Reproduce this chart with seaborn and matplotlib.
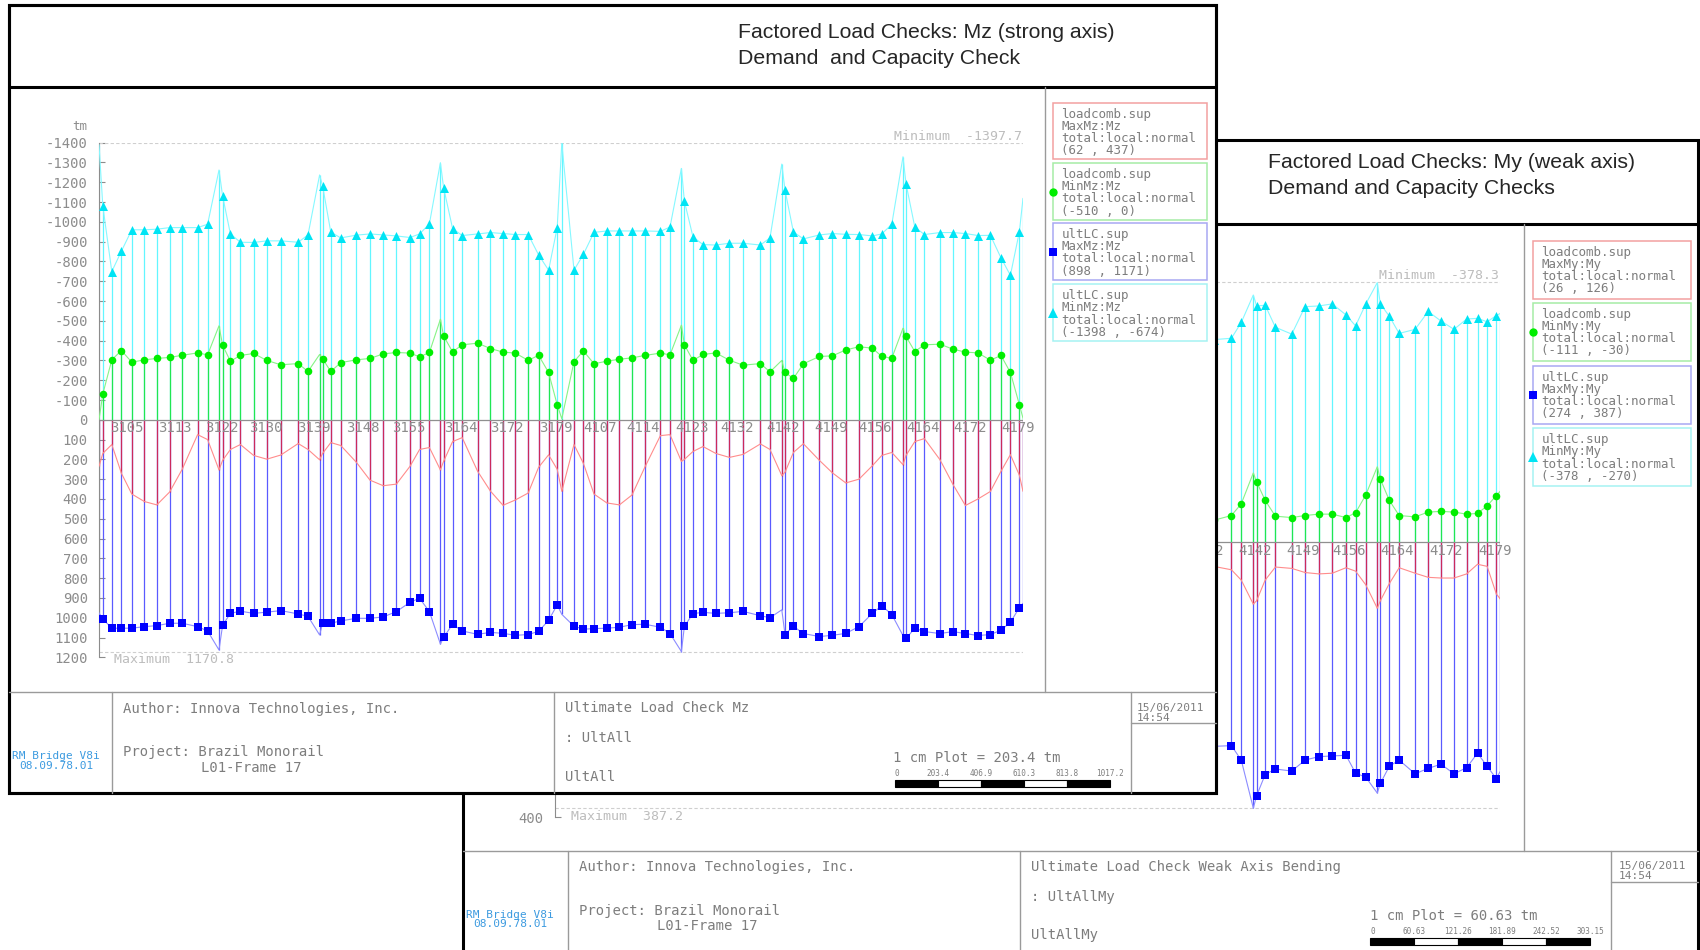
import numpy as np
import seaborn as sns
import matplotlib.pyplot as plt
from matplotlib.patches import Rectangle

sns.set_style("white")
plt.rcParams["font.family"] = ["DejaVu Sans Mono"]
plt.rcParams["axes.unicode_minus"] = False

# ---- data (x = distance along frame, m) ----
station_x = [1.9, 6.4, 11.2, 16.4, 22.7, 28.9, 35.3, 41.6, 49.3, 54.3,
             61.8, 65.7, 70.7, 77.3, 83.9, 90.9, 99.6, 104.5, 111.8, 115.9,
             120.9, 128.7, 135.5, 142.1, 148.7, 155.5, 160.3, 165.2, 172.3, 176.8,
             181.6, 189.3, 195.7, 202.0, 208.2, 214.6, 219.8, 224.8, 229.1, 237.5,
             242.2, 247.5, 253.9, 260.2, 266.5, 272.9, 280.7, 285.5, 292.7, 297.0,
             302.0, 308.4, 315.2, 322.0, 330.7, 335.5, 343.0, 347.2, 352.2, 360.2,
             366.7, 373.4, 380.0, 386.7, 391.4, 396.4, 403.5, 407.9, 412.7, 420.5,
             426.9, 433.2, 439.5, 445.7, 451.0, 455.7, 460.2]
pier_x = [0.0, 60.0, 110.3, 170.7, 231.4, 291.2, 341.4, 402.0, 462.0]

element_label_x = [13.9, 38.0, 61.2, 83.5, 107.5, 131.8, 155.0, 180.9, 204.0, 228.5,
                   250.5, 272.0, 296.4, 318.9, 342.2, 365.9, 388.0, 411.9, 435.5, 459.4]
element_labels = ["3105", "3113", "3122", "3130", "3139", "3148", "3155", "3164", "3172", "3179",
                  "4107", "4114", "4123", "4132", "4142", "4149", "4156", "4164", "4172", "4179"]

# Mz (strong axis)
mz_ult_min = [-1081, -749, -852, -960, -960, -963, -971, -971, -971, -988,
              -1131, -939, -897, -896, -904, -904, -897, -934, -1182, -948,
              -919, -933, -939, -934, -929, -921, -939, -990, -1173, -966,
              -931, -939, -946, -941, -936, -936, -833, -756, -971, -756,
              -836, -947, -954, -954, -954, -954, -952, -974, -1104, -924,
              -885, -883, -892, -892, -883, -919, -1161, -949, -914, -934,
              -941, -937, -936, -929, -939, -988, -1193, -974, -936, -946,
              -946, -941, -931, -932, -818, -730, -951]
mz_lc_min = [-130, -303, -350, -291, -303, -310, -315, -326, -338, -328,
             -377, -296, -325, -335, -300, -278, -284, -244, -308, -244,
             -289, -303, -310, -333, -340, -337, -318, -340, -424, -343,
             -379, -387, -360, -342, -337, -300, -326, -239, -76, -294,
             -348, -283, -296, -306, -313, -325, -337, -328, -379, -300,
             -330, -338, -301, -276, -284, -242, -239, -209, -283, -320,
             -323, -353, -369, -362, -320, -311, -421, -345, -379, -382,
             -357, -342, -338, -301, -325, -239, -76]
mz_ult_max = [1006, 1053, 1053, 1053, 1045, 1040, 1028, 1028, 1045, 1067,
              1038, 978, 967, 978, 972, 964, 981, 993, 1028, 1028,
              1016, 1003, 1003, 996, 969, 922, 902, 969, 1099, 1033,
              1067, 1084, 1074, 1079, 1089, 1085, 1069, 1013, 935, 1043,
              1058, 1055, 1053, 1048, 1035, 1033, 1048, 1080, 1043, 979,
              973, 978, 975, 968, 990, 1000, 1085, 1043, 1080, 1095,
              1089, 1079, 1045, 978, 939, 984, 1105, 1053, 1070, 1080,
              1070, 1080, 1090, 1085, 1063, 1023, 949]
mz_lc_max = [170, 125, 270, 375, 413, 430, 365, 250, 75, 100,
             205, 150, 125, 180, 199, 178, 120, 150, 170, 115,
             130, 215, 305, 333, 325, 235, 150, 140, 210, 110,
             90, 260, 360, 432, 405, 370, 240, 177, 250, 125,
             220, 375, 420, 430, 380, 240, 80, 75, 200, 160,
             135, 170, 190, 175, 122, 150, 265, 165, 121, 205,
             268, 319, 300, 232, 180, 165, 180, 110, 95, 202,
             325, 433, 400, 362, 260, 176, 280]
mz_pier_ult_min = [-1390, -1262, -1237, -1299, -1398, -1270, -1292, -1329, -1119]
mz_pier_lc_min = [0, -475, -330, -508, -5, -478, -300, -463, -8]
mz_pier_ult_max = [975, 1163, 1087, 1133, 983, 1171, 960, 1090, 927]
mz_pier_lc_max = [235, 253, 202, 253, 361, 210, 282, 227, 361]

# My (weak axis) - only the part of the sheet left uncovered, stations 54..77
my_ult_min = [-295, -297, -320, -344, -345, -313, -303, -343, -344, -347, -331, -315,
              -347, -347, -329, -304, -310, -336, -322, -310, -325, -326, -321, -330]
my_lc_min = [-32, -39, -56, -88, -61, -38, -36, -39, -41, -41, -36, -43,
             -69, -92, -61, -39, -37, -44, -45, -44, -41, -42, -53, -68]
my_ult_max = [297, 296, 317, 369, 338, 330, 333, 317, 312, 311, 310, 336,
              342, 351, 326, 317, 337, 329, 323, 337, 328, 307, 326, 344]
my_lc_max = [35, 40, 55, 85, 55, 36, 38, 44, 46, 45, 37, 42,
             62, 85, 60, 37, 45, 51, 52, 52, 46, 32, 35, 75]
my_pier_ult_min = [-360, -378, -333]
my_pier_lc_min = [-101, -110, -74]
my_pier_ult_max = [387, 365, 334]
my_pier_lc_max = [90, 96, 82]

mz_legend = [["loadcomb.sup", "MaxMz:Mz", "total:local:normal", "(62 , 437)"],
             ["loadcomb.sup", "MinMz:Mz", "total:local:normal", "(-510 , 0)"],
             ["ultLC.sup", "MaxMz:Mz", "total:local:normal", "(898 , 1171)"],
             ["ultLC.sup", "MinMz:Mz", "total:local:normal", "(-1398 , -674)"]]
my_legend = [["loadcomb.sup", "MaxMy:My", "total:local:normal", "(26 , 126)"],
             ["loadcomb.sup", "MinMy:My", "total:local:normal", "(-111 , -30)"],
             ["ultLC.sup", "MaxMy:My", "total:local:normal", "(274 , 387)"],
             ["ultLC.sup", "MinMy:My", "total:local:normal", "(-378 , -270)"]]
mz_scale_labels = ["0", "203.4", "406.9", "610.3", "813.8", "1017.2"]
my_scale_labels = ["0", "60.63", "121.26", "181.89", "242.52", "303.15"]

W, H = 1700, 950
GREY = "#8c8c8c"
LIGHT = "#bdbdbd"
TXT = "#7d7d7d"
BOX_EDGES = ["#f2a0a0", "#a6eca6", "#a8a8f2", "#a6f2f2"]

fig = plt.figure(figsize=(17, 9.5), dpi=100)


def sheet_axes(z):
    ax = fig.add_axes([0, 0, 1, 1])
    ax.set_zorder(z)
    ax.set_xlim(0, W)
    ax.set_ylim(H, 0)
    ax.axis("off")
    return ax


def chart_axes(left, top, width, height, z):
    ax = fig.add_axes([left / W, 1 - (top + height) / H, width / W, height / H])
    ax.set_zorder(z)
    ax.patch.set_visible(False)
    return ax


def envelope(ax, xs, vs, xp, vp, stem_c, line_c):
    x = np.concatenate([xs, xp])
    v = np.concatenate([vs, vp])
    o = np.argsort(x, kind="stable")
    ax.vlines(x, 0, v, color=stem_c, lw=0.9, zorder=2)
    sns.lineplot(x=x[o], y=v[o], sort=False, estimator=None, color=line_c,
                 lw=0.8, ax=ax, zorder=3)


def draw_chart(ax, xs, xp, s_umin, s_lmin, s_umax, s_lmax,
               p_umin, p_lmin, p_umax, p_lmax, ytop, ybot, vmin, vmax,
               min_txt, max_txt, label_off):
    envelope(ax, xs, s_umax, xp, p_umax, "#5a5aff", "#8c8cff")
    envelope(ax, xs, s_lmax, xp, p_lmax, "#cc2a5c", "#ff8c8c")
    envelope(ax, xs, s_umin, xp, p_umin, "#62f6ff", "#86f8ff")
    envelope(ax, xs, s_lmin, xp, p_lmin, "#22e650", "#86f486")
    sns.scatterplot(x=xs, y=s_umin, marker="^", s=42, color="#00e4f4",
                    linewidth=0, ax=ax, zorder=5)
    sns.scatterplot(x=xs, y=s_lmin, marker="o", s=30, color="#00ee00",
                    linewidth=0, ax=ax, zorder=5)
    sns.scatterplot(x=xs, y=s_umax, marker="s", s=30, color="#0000ff",
                    linewidth=0, ax=ax, zorder=5)
    ax.axhline(0, color="#8f8f8f", lw=0.9, zorder=4)
    ax.hlines([vmin, vmax], 0, 462, colors="#cfcfcf", linestyles=(0, (3, 2)),
              lw=0.8, zorder=1)
    ax.annotate(min_txt, (461.5, vmin), xytext=(0, 5), textcoords="offset points",
                ha="right", va="center", color=LIGHT, fontsize=9.5)
    ax.annotate(max_txt, (7.6, vmax), xytext=(0, -6), textcoords="offset points",
                ha="left", va="center", color=LIGHT, fontsize=9.5)
    for lx, lab in zip(element_label_x, element_labels):
        ax.annotate(lab, (lx, 0), xytext=(0, -label_off), textcoords="offset points",
                    ha="center", va="center", color=GREY, fontsize=10, zorder=6)
    ax.set_xlim(0, 462)
    ax.set_ylim(ybot, ytop)
    ax.set_yticks(np.arange(ytop, ybot + 1, 100))
    ax.set_xticks([])
    ax.set_xlabel("")
    ax.set_ylabel("")
    for s in ["top", "right", "bottom"]:
        ax.spines[s].set_visible(False)
    ax.spines["left"].set_color(GREY)
    ax.spines["left"].set_linewidth(0.8)
    ax.tick_params(axis="y", direction="in", length=4, width=0.8, color=GREY,
                   labelcolor=GREY, labelsize=10, pad=8, left=True)


def legend_boxes(ax, x0, x1, tops, height, texts):
    marks = [None, ("o", "#00ee00", 6), ("s", "#0000ff", 6), ("^", "#00e4f4", 7)]
    for top, lines, ec, mk in zip(tops, texts, BOX_EDGES, marks):
        ax.add_patch(Rectangle((x0, top), x1 - x0, height, fill=False, ec=ec, lw=1.1))
        for i, line in enumerate(lines):
            ax.text(x0 + 8.5, top + 11.5 + 12.1 * i, line, fontsize=9, color=TXT,
                    va="center", ha="left")
        if mk:
            ax.plot(x0, top + height / 2, marker=mk[0], color=mk[1], ms=mk[2],
                    mew=0, ls="none")


def footer(ax, x0, x1, y0, y1, div1, div2, div3, plot_x, bar_x, seg, date_x,
           title, code, scale_txt, scale_labels):
    g = "#9a9a9a"
    ax.plot([x0, x1], [y0, y0], color=g, lw=1.0)
    for d in (div1, div2, div3):
        ax.plot([d, d], [y0, y1], color=g, lw=1.0)
    ax.plot([div3, x1], [y0 + 31, y0 + 31], color=g, lw=1.0)
    ax.text(x0 + 47, y0 + 69, "RM Bridge V8i\n08.09.78.01", fontsize=8,
            color="#3d9be0", ha="center", va="center", linespacing=0.9)
    ax.text(div1 + 11, y0 + 16.5, "Author: Innova Technologies, Inc.", fontsize=10,
            color=TXT, va="center")
    ax.text(div1 + 11, y0 + 60, "Project: Brazil Monorail", fontsize=10,
            color=TXT, va="center")
    ax.text(div1 + 89, y0 + 76, "L01-Frame 17", fontsize=10, color=TXT, va="center")
    ax.text(div2 + 11, y0 + 16.5, title, fontsize=10, color=TXT, va="center")
    ax.text(div2 + 11, y0 + 46, ": " + code, fontsize=10, color=TXT, va="center")
    ax.text(div2 + 11, y0 + 85, code, fontsize=10, color=TXT, va="center")
    ax.text(plot_x, y0 + 65.5, scale_txt, fontsize=10, color=TXT, va="center")
    for i in range(5):
        ax.add_patch(Rectangle((bar_x + i * seg, y0 + 87.5), seg, 7,
                               fc="black" if i % 2 == 0 else "white", ec="black", lw=0.8))
    for i, lab in enumerate(scale_labels):
        ax.text(bar_x + i * seg, y0 + 81.5, lab, fontsize=5.5, color=TXT,
                ha="left" if i == 0 else "center", va="center")
    ax.text(date_x, y0 + 11, "15/06/2011\n14:54", fontsize=8, color=TXT,
            va="top", ha="left", linespacing=0.95)


# ---- back sheet: My (weak axis) ----
bg_back = sheet_axes(0)
bg_back.add_patch(Rectangle((463, 140), 1235, 900, fc="white", ec="black", lw=2.2))
bg_back.plot([463, 1698], [224, 224], color="black", lw=2.2)
bg_back.text(1268, 163, "Factored Load Checks: My (weak axis)", fontsize=15.3,
             family="Liberation Sans", va="center")
bg_back.text(1268, 189, "Demand and Capacity Checks", fontsize=15.3,
             family="Liberation Sans", va="center")
bg_back.plot([1524, 1524], [224, 850.5], color="#9a9a9a", lw=1.0)
legend_boxes(bg_back, 1533, 1691, [240.7, 303, 365.7, 428.3], 58, my_legend)
footer(bg_back, 463, 1698, 850.5, 960, 568, 1020.5, 1611.5, 1370, 1370.5, 44, 1619,
       "Ultimate Load Check Weak Axis Bending", "UltAllMy",
       "1 cm Plot = 60.63 tm", my_scale_labels)

ax_my = chart_axes(555, 267.5, 945, 549.6, 1)
draw_chart(ax_my, station_x[53:], pier_x[6:], my_ult_min, my_lc_min, my_ult_max,
           my_lc_max, my_pier_ult_min, my_pier_lc_min, my_pier_ult_max,
           my_pier_lc_max, -400, 400, -378.3, 387.2, "Minimum  -378.3",
           "Maximum  387.2", 6)

# ---- front sheet: Mz (strong axis) ----
bg_front = sheet_axes(2)
bg_front.add_patch(Rectangle((9, 5), 1207, 788, fc="white", ec="black", lw=2.2))
bg_front.plot([9, 1216], [87, 87], color="black", lw=2.2)
bg_front.text(738, 33, "Factored Load Checks: Mz (strong axis)", fontsize=15.3,
              family="Liberation Sans", va="center")
bg_front.text(738, 59, "Demand  and Capacity Check", fontsize=15.3,
              family="Liberation Sans", va="center")
bg_front.plot([1045, 1045], [87, 692], color="#9a9a9a", lw=1.0)
bg_front.text(80, 127, "tm", fontsize=9, color=GREY, ha="center", va="center")
legend_boxes(bg_front, 1053, 1207, [102.7, 163.3, 223.3, 284.3], 56.5, mz_legend)
footer(bg_front, 9, 1216, 692, 793, 112, 554, 1131, 893, 895, 43, 1137,
       "Ultimate Load Check Mz", "UltAll", "1 cm Plot = 203.4 tm", mz_scale_labels)
bg_front.add_patch(Rectangle((9, 5), 1207, 788, fill=False, ec="black", lw=2.2))

ax_mz = chart_axes(99, 142.7, 924, 514.6, 3)
draw_chart(ax_mz, station_x, pier_x, mz_ult_min, mz_lc_min, mz_ult_max, mz_lc_max,
           mz_pier_ult_min, mz_pier_lc_min, mz_pier_ult_max, mz_pier_lc_max,
           -1400, 1200, -1397.7, 1170.8, "Minimum  -1397.7", "Maximum  1170.8", 6)

fig.savefig("out.png", dpi=100)
